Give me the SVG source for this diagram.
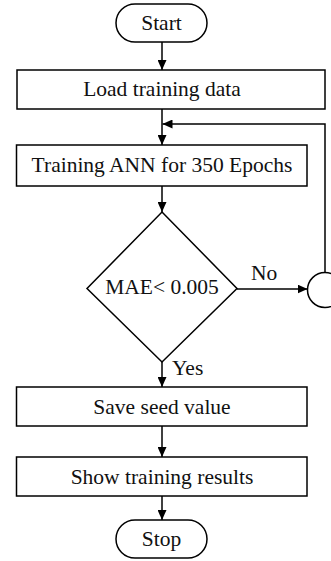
<svg xmlns="http://www.w3.org/2000/svg" width="331" height="561" viewBox="0 0 331 561">
<defs>
<style>
.s{fill:#fff;stroke:#000;stroke-width:1.5}
.t{font-family:"Liberation Serif","Times New Roman",serif;font-size:21.5px;fill:#111;text-anchor:middle}
.l{font-family:"Liberation Serif","Times New Roman",serif;font-size:21.5px;fill:#111}
.c{fill:none;stroke:#000;stroke-width:1.5}
</style>
<marker id="a" markerWidth="10" markerHeight="9" refX="10" refY="4.5" orient="auto" markerUnits="userSpaceOnUse">
<path d="M0,0 L10,4.5 L0,9 Z" fill="#000"/>
</marker>
</defs>
<rect width="331" height="561" fill="#fff"/>
<g id="connectors">
<line class="c" x1="162" y1="42" x2="162" y2="70" marker-end="url(#a)"/>
<line class="c" x1="162" y1="109" x2="162" y2="145" marker-end="url(#a)"/>
<polyline class="c" points="325,273 325,124 162.5,124" marker-end="url(#a)"/>
<line class="c" x1="162" y1="186" x2="162" y2="212" marker-end="url(#a)"/>
<line class="c" x1="237" y1="289" x2="307.5" y2="289" marker-end="url(#a)"/>
<line class="c" x1="162" y1="362" x2="162" y2="387" marker-end="url(#a)"/>
<line class="c" x1="162" y1="426" x2="162" y2="457" marker-end="url(#a)"/>
<line class="c" x1="162" y1="496" x2="162" y2="520" marker-end="url(#a)"/>
<text class="l" x="251" y="280">No</text>
<text class="l" x="172" y="375">Yes</text>
</g>
<g id="start"><rect class="s" x="116" y="4" width="91" height="38" rx="19"/><text class="t" x="161.5" y="30">Start</text></g>
<g id="load"><rect class="s" x="17" y="70" width="308" height="39"/><text class="t" x="162" y="96">Load training data</text></g>
<g id="train"><rect class="s" x="16.5" y="145" width="290.5" height="41"/><text class="t" x="162" y="172">Training ANN for 350 Epochs</text></g>
<g id="decision"><polygon class="s" points="162,212 237,288.5 162,362 87,288.5"/><text class="t" x="162" y="294">MAE&lt; 0.005</text></g>
<g id="connector"><circle class="s" cx="325" cy="290" r="17.5"/></g>
<g id="save"><rect class="s" x="16.5" y="387" width="290.5" height="39"/><text class="t" x="162" y="414">Save seed value</text></g>
<g id="show"><rect class="s" x="16.5" y="457" width="290.5" height="39"/><text class="t" x="162" y="484">Show training results</text></g>
<g id="stop"><rect class="s" x="116" y="520" width="91" height="38" rx="19"/><text class="t" x="161.5" y="546">Stop</text></g>
</svg>
